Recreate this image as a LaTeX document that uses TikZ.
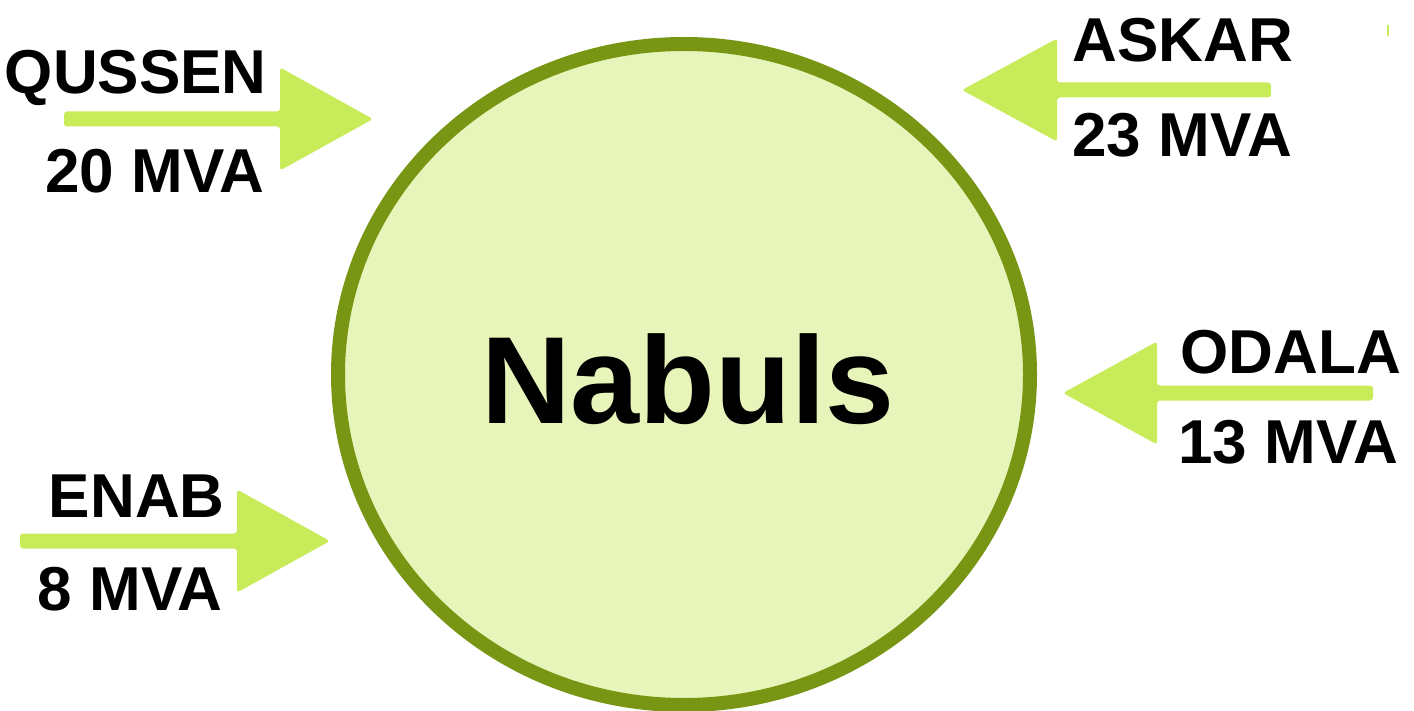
\documentclass[tikz,border=0pt]{standalone}
\usepackage{fontspec}
\setmainfont{Liberation Sans}
\definecolor{ringgreen}{RGB}{120,150,20}
\definecolor{fillgreen}{RGB}{232,245,186}
\definecolor{arrowgreen}{RGB}{200,235,90}
\newcommand{\FArrow}[4]{% shaft start x, head base x, tip x, centre y
  \fill[arrowgreen,rounded corners=1.5pt] (#1,#4-7.5) -- (#2,#4-7.5) -- (#2,#4-51.5) -- (#3,#4) -- (#2,#4+51.5) -- (#2,#4+7.5) -- (#1,#4+7.5) -- cycle;}
\begin{document}
\begin{tikzpicture}[x=0.5pt,y=-0.5pt,
  lbl/.style={inner sep=0pt,font=\fontsize{31}{36}\selectfont\bfseries},
  hub/.style={ellipse,draw=ringgreen,fill=fillgreen,line width=7pt},
]
\useasboundingbox (0,0) rectangle (1414,711);
% hub
\fill[fillgreen,draw=ringgreen,line width=7pt] (684,374.5) ellipse [x radius=173pt, y radius=165.25pt];
\node[inner sep=0pt,anchor=base,font=\fontsize{62}{70}\selectfont\bfseries] (hubtext) at (688,423) {Nabuls};
% arrows
\FArrow{64}{280}{373}{119}
\FArrow{1271}{1057}{962}{90}
\FArrow{1373}{1157}{1063}{393}
\FArrow{20}{237}{330}{541}
\fill[arrowgreen] (1387,25) rectangle (1389,36);
% labels
\node[lbl,anchor=base east] (q1) at (267,94) {QUSSEN};
\node[lbl,anchor=base east] (q2) at (265,193) {20 MVA};
\node[lbl,anchor=base west] (a1) at (1072,62) {ASKAR};
\node[lbl,anchor=base west] (a2) at (1072,157) {23 MVA};
\node[lbl,anchor=base west] (o1) at (1180,373) {ODALA};
\node[lbl,anchor=base west] (o2) at (1178,463) {13 MVA};
\node[lbl,anchor=base east] (e1) at (225,517) {ENAB};
\node[lbl,anchor=base east] (e2) at (223,610) {8 MVA};
\end{tikzpicture}
\end{document}
